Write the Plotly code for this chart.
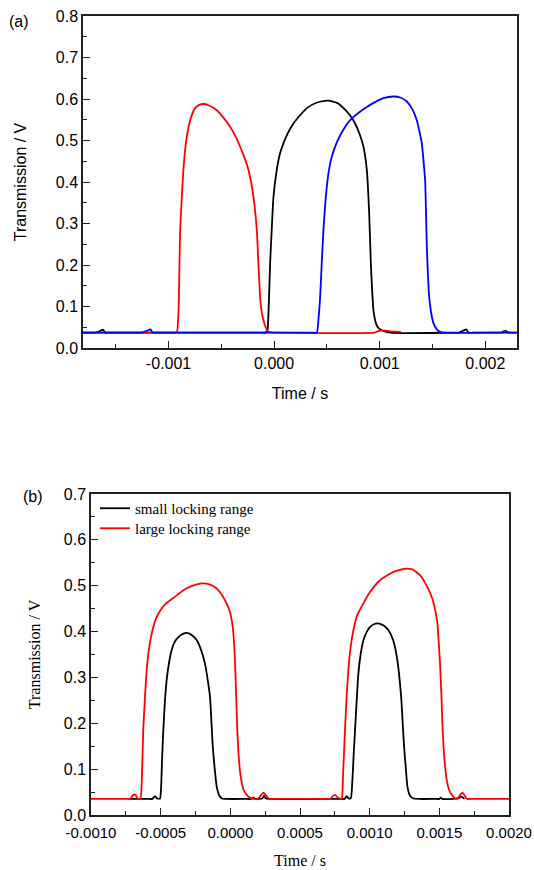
import plotly.graph_objects as go

W, H = 534, 870

# ---------------- (a) data ----------------
red_t = [-0.00181, -0.0010, -0.00095, -0.000922, -0.000906, -0.00089, -0.000874, -0.000859, -0.000843,
         -0.000827, -0.000795, -0.000748, -0.00071, -0.000669, -0.00062, -0.000543, -0.00048, -0.000417,
         -0.00036, -0.000322, -0.00028, -0.000243, -0.000196, -0.000164, -0.000149, -0.000133, -0.00012,
         -0.000101, -0.00008, -0.000054, -0.00002, 0.0, 0.0004, 0.0008, 0.00095, 0.001, 0.00105,
         0.0011, 0.0012]
red_v = [0.037, 0.037, 0.037, 0.037, 0.084, 0.284, 0.365, 0.429, 0.477,
         0.509, 0.549, 0.578, 0.586, 0.588, 0.585, 0.573, 0.555, 0.533,
         0.507, 0.485, 0.458, 0.429, 0.365, 0.284, 0.204, 0.124, 0.09,
         0.067, 0.05, 0.039, 0.037, 0.037, 0.036, 0.036, 0.037, 0.042, 0.042,
         0.040, 0.039]

black_t = [-0.00181, -0.00175, -0.0017, -0.00165, -0.00162, -0.0016, -0.00155, -0.00012, -0.00008,
           -0.000063, -0.00005, -0.000038, -0.000022, -0.000006, 0.000025, 0.000055, 0.000088, 0.00013,
           0.000183, 0.00025, 0.00031, 0.0004, 0.000499, 0.000515, 0.0006, 0.000657, 0.000715,
           0.000767, 0.00081, 0.000846, 0.000878, 0.0009, 0.000916, 0.000928, 0.00094, 0.000958,
           0.000978, 0.00102, 0.001067, 0.0012, 0.0017, 0.00175, 0.0018, 0.00182, 0.00184, 0.0019, 0.0023]
black_v = [0.037, 0.037, 0.037, 0.041, 0.044, 0.037, 0.037, 0.037, 0.037,
           0.043, 0.11, 0.204, 0.29, 0.365, 0.429, 0.468, 0.493, 0.518,
           0.541, 0.562, 0.578, 0.591, 0.596, 0.596, 0.59, 0.578, 0.562,
           0.541, 0.515, 0.485, 0.429, 0.325, 0.204, 0.14, 0.092, 0.065,
           0.051, 0.042, 0.0385, 0.036, 0.037, 0.037, 0.043, 0.045, 0.037, 0.037, 0.037]

blue_t = [-0.00181, -0.0013, -0.00125, -0.0012, -0.00117, -0.00115, -0.0011, 0.00035, 0.000404,
          0.00042, 0.000436, 0.00045, 0.000467, 0.000482, 0.000499, 0.00052, 0.000546, 0.000585,
          0.000625, 0.00067, 0.00072, 0.0008, 0.000878, 0.00096, 0.001035, 0.00113, 0.0012,
          0.001257, 0.00131, 0.001351, 0.001378, 0.001399, 0.001415, 0.00143, 0.001438, 0.001446,
          0.001456, 0.001468, 0.001487, 0.001509, 0.00154, 0.001572, 0.0016, 0.0021, 0.00215,
          0.00219, 0.00222, 0.00226, 0.0023]
blue_v = [0.037, 0.037, 0.037, 0.042, 0.045, 0.037, 0.037, 0.037, 0.037,
          0.07, 0.124, 0.2, 0.284, 0.34, 0.389, 0.43, 0.461, 0.49,
          0.512, 0.532, 0.549, 0.567, 0.581, 0.593, 0.602, 0.606, 0.603,
          0.594, 0.575, 0.549, 0.52, 0.493, 0.45, 0.405, 0.33, 0.244,
          0.18, 0.124, 0.085, 0.06, 0.045, 0.039, 0.037, 0.037, 0.037,
          0.042, 0.037, 0.037, 0.037]

a_xtickvals = [-0.001, 0.0, 0.001, 0.002]
a_xticktext = ["-0.001", "0.000", "0.001", "0.002"]

# ---------------- (b) data ----------------
small_t = [-0.00072, -0.00058, -0.00056, -0.000541, -0.000525, -0.000505, -0.000497, -0.00049, -0.000481,
           -0.00047, -0.000457, -0.00044, -0.000421, -0.0004, -0.000373, -0.00034, -0.000313, -0.00028,
           -0.000241, -0.00021, -0.000182, -0.00016, -0.000146, -0.000135, -0.000126, -0.000112, -0.000098,
           -0.00008, -0.000062, -0.00003, 0.00012, 0.00015, 0.000165, 0.00018, 0.00023, 0.000242,
           0.000255, 0.00028, 0.0008, 0.00082, 0.000835, 0.00085, 0.000865, 0.000875, 0.000885,
           0.000895, 0.000907, 0.000919, 0.000935, 0.000955, 0.00098, 0.001003, 0.00103, 0.001063,
           0.0011, 0.001135, 0.00117, 0.001195, 0.00121, 0.001226, 0.001237, 0.001247, 0.00126,
           0.001271, 0.00129, 0.001314, 0.00135, 0.00148, 0.0015, 0.00151, 0.00152, 0.00163,
           0.00166, 0.00168]
small_v = [0.035, 0.035, 0.035, 0.041, 0.036, 0.036, 0.06, 0.12, 0.185,
           0.245, 0.294, 0.332, 0.36, 0.377, 0.388, 0.395, 0.397, 0.393,
           0.381, 0.36, 0.33, 0.29, 0.258, 0.2, 0.149, 0.1, 0.062,
           0.043, 0.036, 0.035, 0.035, 0.035, 0.038, 0.035, 0.036, 0.042,
           0.036, 0.035, 0.035, 0.035, 0.041, 0.036, 0.037, 0.07, 0.13,
           0.185, 0.25, 0.309, 0.35, 0.381, 0.4, 0.41, 0.416, 0.418,
           0.413, 0.403, 0.38, 0.345, 0.31, 0.258, 0.2, 0.149, 0.1,
           0.062, 0.042, 0.036, 0.035, 0.035, 0.035, 0.038, 0.035, 0.036,
           0.04, 0.035]

large_t = [-0.001, -0.00074, -0.00072, -0.000696, -0.00068, -0.000665, -0.000645, -0.000635, -0.000625,
           -0.000612, -0.0006, -0.000585, -0.000564, -0.000545, -0.000528, -0.0005, -0.000467, -0.000433,
           -0.00038, -0.000337, -0.00027, -0.000205, -0.00015, -0.000098, -0.00006, -0.000026, 0.0,
           0.000017, 0.000028, 0.000034, 0.000042, 0.00005, 0.000062, 0.000075, 0.000095, 0.000118,
           0.00014, 0.000165, 0.0002, 0.000222, 0.000237, 0.000255, 0.00028, 0.0003, 0.0007,
           0.00072, 0.000735, 0.000751, 0.000765, 0.000785, 0.0008, 0.000808, 0.000815, 0.000823,
           0.000835, 0.000847, 0.000865, 0.000883, 0.00091, 0.000954, 0.001, 0.001074, 0.00117,
           0.001254, 0.00131, 0.001361, 0.0014, 0.001445, 0.001468, 0.001486, 0.001497, 0.001505,
           0.001515, 0.001524, 0.001537, 0.001553, 0.00157, 0.001589, 0.00161, 0.00163, 0.00165,
           0.001666, 0.00168, 0.0017, 0.00172, 0.002]
large_v = [0.035, 0.035, 0.035, 0.044, 0.044, 0.036, 0.036, 0.08, 0.185,
           0.26, 0.316, 0.36, 0.396, 0.418, 0.432, 0.447, 0.46, 0.468,
           0.48, 0.49, 0.5, 0.505, 0.503, 0.494, 0.48, 0.461, 0.44,
           0.41, 0.37, 0.33, 0.26, 0.185, 0.12, 0.083, 0.055, 0.044,
           0.038, 0.035, 0.036, 0.044, 0.049, 0.043, 0.035, 0.035, 0.035,
           0.035, 0.041, 0.044, 0.04, 0.036, 0.036, 0.08, 0.13, 0.185,
           0.26, 0.316, 0.37, 0.403, 0.435, 0.461, 0.485, 0.512, 0.53,
           0.537, 0.535, 0.523, 0.505, 0.476, 0.45, 0.418, 0.37, 0.33,
           0.26, 0.185, 0.12, 0.076, 0.055, 0.044, 0.037, 0.036, 0.044,
           0.049, 0.043, 0.035, 0.035, 0.035]

b_xtickvals = [-0.001, -0.0005, 0.0, 0.0005, 0.001, 0.0015, 0.002]
b_xticktext = ["-0.0010", "-0.0005", "0.0000", "0.0005", "0.0010", "0.0015", "0.0020"]

series_names = ["small locking range", "large locking range"]

# ---------------- figure ----------------
# body margin is removed in the page (post_script), so figure coords = screen coords
O = 0

def fx(px):
    return (px - O) / W

def fy(py):
    return 1 - (py - O) / H

fig = go.Figure()
LW = 1.8
LINE = dict(width=LW, shape="spline", smoothing=0.5)
fig.add_trace(go.Scatter(x=black_t, y=black_v, mode="lines", line=dict(color="black", **LINE),
                         xaxis="x", yaxis="y", showlegend=False))
fig.add_trace(go.Scatter(x=red_t, y=red_v, mode="lines", line=dict(color="#ff0000", **LINE),
                         xaxis="x", yaxis="y", showlegend=False))
fig.add_trace(go.Scatter(x=blue_t, y=blue_v, mode="lines", line=dict(color="#0000ff", **LINE),
                         xaxis="x", yaxis="y", showlegend=False))
fig.add_trace(go.Scatter(x=small_t, y=small_v, mode="lines", name=series_names[0],
                         line=dict(color="black", **LINE), xaxis="x2", yaxis="y2", legend="legend"))
fig.add_trace(go.Scatter(x=large_t, y=large_v, mode="lines", name=series_names[1],
                         line=dict(color="#ff0000", **LINE), xaxis="x2", yaxis="y2", legend="legend2"))

SANS = "Liberation Sans, Arial, sans-serif"
SERIF = "Liberation Serif, Times New Roman, serif"
AX = "#222222"

common = dict(showline=True, mirror=True, linecolor=AX, linewidth=1.5, showgrid=False, zeroline=False,
              ticks="inside", ticklen=7, tickwidth=1.3, tickcolor=AX, automargin=False,
              ticklabeloverflow="allow")

legend_common = dict(xanchor="left", yanchor="top", bgcolor="rgba(0,0,0,0)",
                     font=dict(family=SERIF, size=15, color="black"))

fig.update_layout(
    width=W, height=H, margin=dict(l=0, r=0, t=0, b=0, autoexpand=False),
    paper_bgcolor="white", plot_bgcolor="white",
    xaxis=dict(domain=[fx(83), fx(517)], anchor="y", range=[-0.00181, 0.0023],
               tickvals=a_xtickvals, ticktext=a_xticktext,
               tickfont=dict(family=SANS, size=16, color="black"),
               minor=dict(dtick=0.0005, tick0=0, ticks="inside", ticklen=4, tickcolor=AX),
               title=dict(text="Time / s", font=dict(family=SANS, size=16, color="black"), standoff=17),
               **common),
    yaxis=dict(domain=[fy(348), fy(16)], anchor="x", range=[0, 0.8], dtick=0.1, tick0=0,
               tickformat=".1f", tickfont=dict(family=SANS, size=16, color="black"),
               minor=dict(dtick=0.05, tick0=0, ticks="inside", ticklen=4, tickcolor=AX),
               title=dict(text="Transmission / V", font=dict(family=SANS, size=16, color="black"), standoff=25),
               **common),
    xaxis2=dict(domain=[fx(91), fx(509)], anchor="y2", range=[-0.001, 0.002],
                tickvals=b_xtickvals, ticktext=b_xticktext, ticklabelstandoff=3,
                tickfont=dict(family=SANS, size=15, color="black"),
                minor=dict(dtick=0.00025, tick0=0, ticks="inside", ticklen=4, tickcolor=AX),
                title=dict(text="Time / s", font=dict(family=SERIF, size=16, color="black"), standoff=15),
                **common),
    yaxis2=dict(domain=[fy(815), fy(494)], anchor="x2", range=[0, 0.7], dtick=0.1, tick0=0,
                tickformat=".1f", tickfont=dict(family=SANS, size=16, color="black"),
                minor=dict(dtick=0.05, tick0=0, ticks="inside", ticklen=4, tickcolor=AX),
                title=dict(text="Transmission / V", font=dict(family=SERIF, size=16, color="black"), standoff=19),
                **common),
    legend=dict(x=fx(95), y=fy(492), **legend_common),
    legend2=dict(x=fx(95), y=fy(512), **legend_common),
    annotations=[
        dict(text="(a)", x=fx(18.5), y=fy(21.5), xref="paper", yref="paper", showarrow=False,
             xanchor="center", yanchor="middle", font=dict(family=SANS, size=16, color="black")),
        dict(text="(b)", x=fx(33), y=fy(496), xref="paper", yref="paper", showarrow=False,
             xanchor="center", yanchor="middle", font=dict(family=SANS, size=16, color="black")),
    ],
)

fig.write_html("out.html", config={"displayModeBar": False},
               post_script="document.body.style.margin='0';document.body.style.overflow='hidden';")
